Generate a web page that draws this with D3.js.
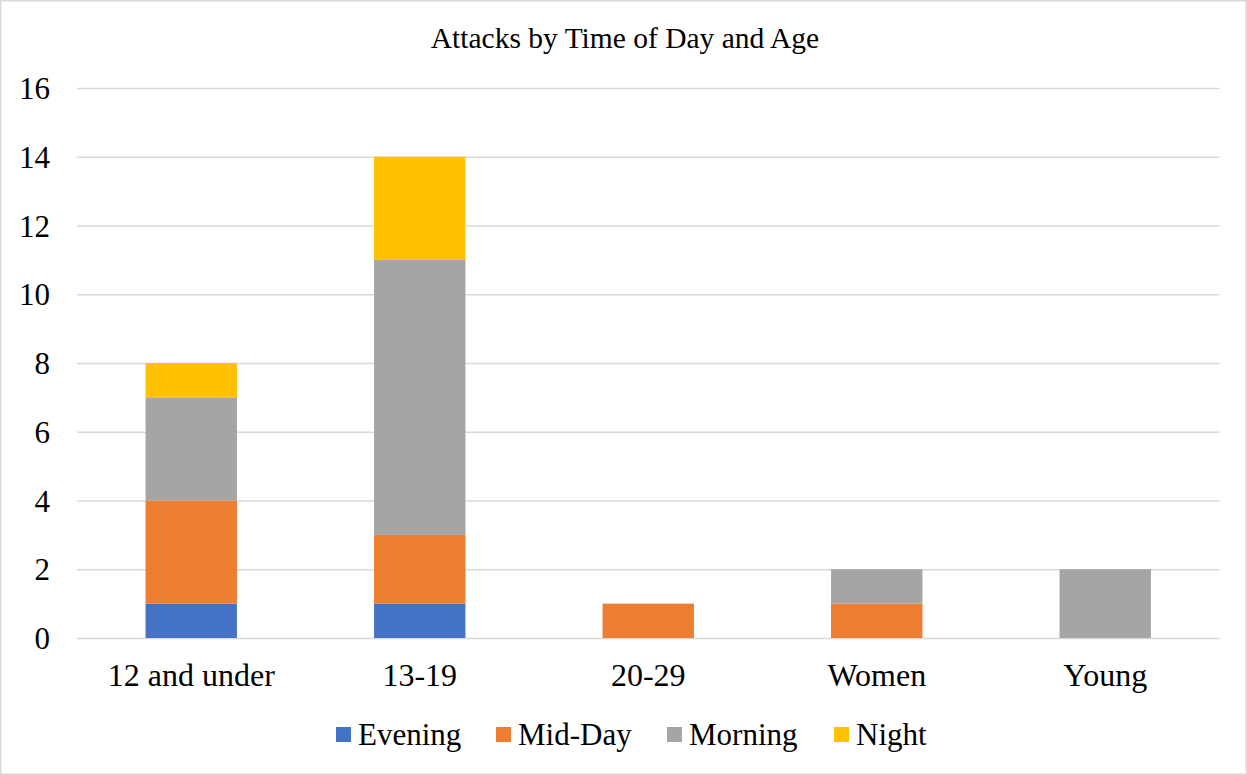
<!DOCTYPE html>
<html>
<head>
<meta charset="utf-8">
<script src="https://cdn.jsdelivr.net/npm/d3@7"></script>
<style>
  html, body { margin: 0; padding: 0; background: #fff; }
  svg { display: block; }
</style>
</head>
<body>
<svg id="chart" width="1247" height="775"></svg>
<script>
// Age groups along the x axis
const categories = ["12 and under", "13-19", "20-29", "Women", "Young"];
// Attack counts for each time of day, one value per age group
const evening = [1, 1, 0, 0, 0];
const midDay  = [3, 2, 1, 1, 0];
const morning = [3, 8, 0, 1, 2];
const night   = [1, 3, 0, 0, 0];
const seriesNames = ["Evening", "Mid-Day", "Morning", "Night"];
const seriesColors = ["#4472C4", "#ED7D31", "#A5A5A5", "#FFC000"];
const yTicks = [0, 2, 4, 6, 8, 10, 12, 14, 16];

const FONT = "Liberation Serif";
const W = 1247, H = 775;
const margin = { left: 77, right: 27.5, top: 88, bottom: 137 };
const svg = d3.select("#chart").attr("font-family", FONT);

// chart frame
svg.append("rect")
  .attr("x", 0.75).attr("y", 0.75)
  .attr("width", W - 1.5).attr("height", H - 1.5)
  .attr("fill", "#fff").attr("stroke", "#d9d9d9").attr("stroke-width", 1.5);

const rows = categories.map((c, i) => ({
  category: c,
  "Evening": evening[i],
  "Mid-Day": midDay[i],
  "Morning": morning[i],
  "Night": night[i]
}));

const x = d3.scaleBand()
  .domain(categories)
  .range([margin.left, W - margin.right])
  .paddingInner(0.6)
  .paddingOuter(0.3);

const y = d3.scaleLinear()
  .domain([0, 16])
  .range([H - margin.bottom, margin.top]);

const color = d3.scaleOrdinal().domain(seriesNames).range(seriesColors);

// horizontal gridlines with value labels
const yAxis = d3.axisLeft(y)
  .tickValues(yTicks)
  .tickSize(-(W - margin.left - margin.right))
  .tickPadding(27);

const gy = svg.append("g")
  .attr("transform", `translate(${margin.left},0)`)
  .call(yAxis)
  .attr("font-family", FONT)
  .attr("font-size", 31);
gy.select(".domain").remove();
gy.selectAll(".tick line").attr("stroke", "#d9d9d9").attr("stroke-width", 1.5);
gy.selectAll(".tick text")
  .attr("fill", "#000")
  .attr("text-anchor", "end")
  .attr("dy", "0.34em");

// stacked bars
const stacked = d3.stack().keys(seriesNames)(rows);
svg.append("g")
  .selectAll("g")
  .data(stacked)
  .join("g")
  .attr("fill", d => color(d.key))
  .selectAll("rect")
  .data(d => d.filter(p => p[1] - p[0] > 0))
  .join("rect")
  .attr("x", d => x(d.data.category))
  .attr("width", x.bandwidth())
  .attr("y", d => y(d[1]))
  .attr("height", d => y(d[0]) - y(d[1]));

// category labels
const xAxis = d3.axisBottom(x).tickSize(0).tickPadding(25);
const gx = svg.append("g")
  .attr("transform", `translate(0,${H - margin.bottom})`)
  .call(xAxis)
  .attr("font-family", FONT)
  .attr("font-size", 32);
gx.select(".domain").remove();
gx.selectAll(".tick text").attr("fill", "#000");

// title
svg.append("text")
  .attr("x", 625).attr("y", 48)
  .attr("text-anchor", "middle")
  .attr("font-size", 29.5)
  .attr("fill", "#000")
  .text("Attacks by Time of Day and Age");

// legend
const legendItems = [
  { name: "Evening", x: 336 },
  { name: "Mid-Day", x: 496 },
  { name: "Morning", x: 667 },
  { name: "Night", x: 834 }
];
const items = svg.append("g")
  .attr("font-size", 31)
  .selectAll("g")
  .data(legendItems)
  .join("g")
  .attr("transform", d => `translate(${d.x},0)`);
items.append("rect")
  .attr("x", 0).attr("y", 727)
  .attr("width", 15).attr("height", 15)
  .attr("fill", d => color(d.name));
items.append("text")
  .attr("x", 22).attr("y", 745)
  .attr("fill", "#000")
  .text(d => d.name);
</script>
</body>
</html>
